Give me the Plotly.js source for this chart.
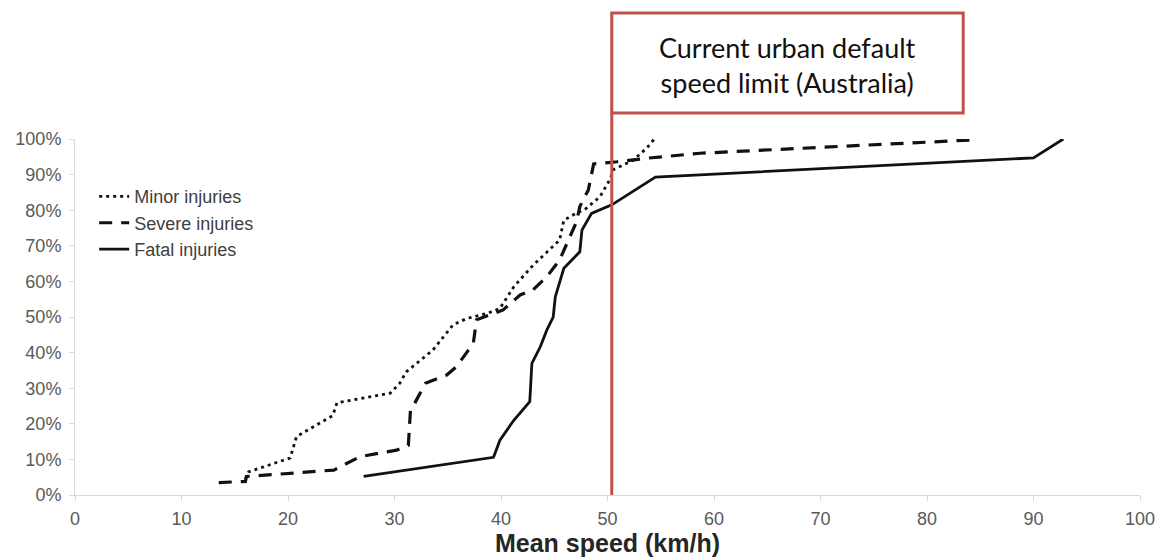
<!DOCTYPE html>
<html>
<head>
<meta charset="utf-8">
<script src="https://cdn.plot.ly/plotly-3.0.1.min.js"></script>
<style>html,body{margin:0;padding:0;background:#fff;}#chart{width:1165px;height:558px;}</style>
</head>
<body>
<div id="chart"></div>
<script>
// Cumulative share of crashes (%) by mean speed (km/h)
const minorSpeed = [16.0, 16.3, 20.2, 20.8, 24.2, 24.6, 29.6, 30.5, 31.1, 33.6, 35.5, 36.8, 38.7, 39.9, 41.2, 43.0, 45.5, 45.9, 46.8, 48.0, 49.3, 50.2, 50.6, 52.4, 53.7, 54.4];
const minorShare = [4.5, 6.5, 10.4, 16.4, 22.3, 25.9, 28.6, 31.4, 34.6, 40.7, 47.8, 49.6, 51.0, 52.4, 58.5, 64.5, 71.6, 77.2, 78.7, 80.5, 83.8, 88.5, 91.5, 94.0, 97.5, 100];

const severeSpeed = [13.5, 16.0, 16.1, 24.3, 25.2, 26.8, 30.2, 31.3, 31.5, 31.9, 32.9, 34.9, 35.8, 37.4, 37.7, 39.0, 40.2, 41.8, 43.0, 44.3, 45.5, 47.1, 47.4, 48.2, 48.4, 48.7, 50.9, 53.7, 58.7, 67.0, 84.0];
const severeShare = [3.5, 3.8, 5.2, 7.0, 8.4, 10.8, 12.6, 14.0, 23.9, 25.8, 31.4, 33.7, 36.0, 42.6, 49.2, 50.6, 52.0, 56.2, 57.6, 61.3, 66.0, 76.8, 81.0, 85.7, 89.0, 93.0, 93.6, 94.6, 96.0, 97.2, 99.7];

const fatalSpeed = [27.1, 39.3, 39.9, 41.2, 42.7, 42.9, 43.7, 44.3, 44.9, 45.1, 45.9, 47.4, 47.6, 48.5, 50.4, 54.5, 90.0, 92.8];
const fatalShare = [5.2, 10.6, 15.4, 21.0, 26.2, 37.0, 41.7, 46.3, 50.0, 55.7, 63.7, 68.3, 74.4, 79.1, 81.5, 89.3, 94.7, 100];

const seriesNames = ["Minor injuries", "Severe injuries", "Fatal injuries"];
const xTicks = [0, 10, 20, 30, 40, 50, 60, 70, 80, 90, 100];
const yTicks = [0, 10, 20, 30, 40, 50, 60, 70, 80, 90, 100];
const yTickText = ["0%", "10%", "20%", "30%", "40%", "50%", "60%", "70%", "80%", "90%", "100%"];
const speedLimit = 50.4;
const boxText = "Current urban default<br>speed limit (Australia)";

const red = "#C0504D";
const traces = [
  {x: minorSpeed, y: minorShare, name: seriesNames[0], mode: "lines",
   line: {color: "#111", width: 2.8, dash: "3px,4px"}},
  {x: severeSpeed, y: severeShare, name: seriesNames[1], mode: "lines",
   line: {color: "#111", width: 3.2, dash: "13px,9px"}},
  {x: fatalSpeed, y: fatalShare, name: seriesNames[2], mode: "lines",
   line: {color: "#111", width: 2.8}}
];

const layout = {
  width: 1165, height: 558,
  margin: {l: 75, r: 25, t: 139, b: 63},
  paper_bgcolor: "#fff", plot_bgcolor: "#fff",
  font: {family: "Liberation Sans, Arial, sans-serif", color: "#595959", size: 18},
  showlegend: true,
  legend: {x: 0.018, y: 0.89, xanchor: "left", yanchor: "top", bgcolor: "rgba(0,0,0,0)",
           font: {size: 18, color: "#404040"}, tracegroupgap: 0},
  xaxis: {range: [0, 100], tickvals: xTicks, ticks: "outside", ticklen: 5, tickcolor: "#d9d9d9",
          showline: true, linecolor: "#d9d9d9", linewidth: 1, showgrid: false, zeroline: false,
          tickfont: {size: 18, color: "#595959"}, ticklabelstandoff: 2,
          title: {text: "<b>Mean speed (km/h)</b>", font: {size: 25, color: "#262626"}, standoff: 5}},
  yaxis: {range: [0, 100], tickvals: yTicks, ticktext: yTickText, ticks: "outside", ticklen: 5, tickcolor: "#d9d9d9",
          showline: true, linecolor: "#d9d9d9", linewidth: 1, showgrid: false, zeroline: false,
          tickfont: {size: 18, color: "#595959"}, ticklabelstandoff: 4},
  shapes: [
    {type: "line", xref: "x", yref: "paper", x0: speedLimit, x1: speedLimit, y0: 0, y1: 1.073,
     line: {color: red, width: 3}},
    {type: "rect", xref: "x", yref: "paper", x0: speedLimit, x1: 83.4, y0: 1.073, y1: 1.354,
     line: {color: red, width: 3}, fillcolor: "#fff"}
  ],
  annotations: [
    {xref: "x", yref: "paper", x: 66.9, y: 1.207, text: boxText, showarrow: false,
     font: {family: "Lato, Carlito, sans-serif", size: 27, color: "#111"}, align: "center",
     xanchor: "center", yanchor: "middle"}
  ]
};

Plotly.newPlot("chart", traces, layout, {displayModeBar: false, staticPlot: true});
</script>
</body>
</html>
